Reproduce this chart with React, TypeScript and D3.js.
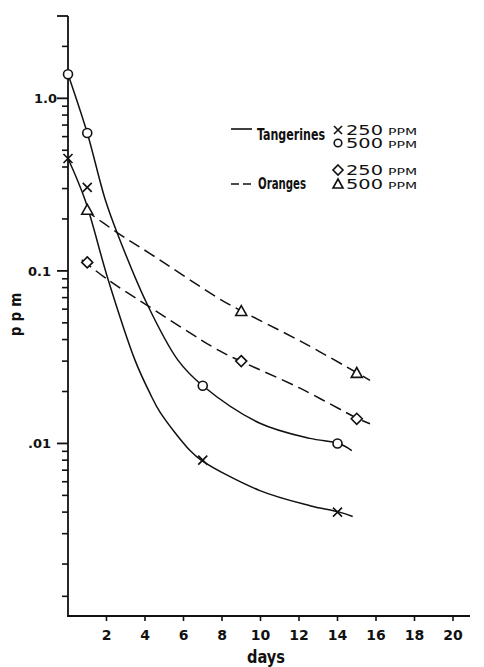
import React from "react";
import * as d3 from "d3";

// ---- data ----
// measured points: [day, ppm]
const tang250Pts: [number, number][] = [[0, 0.448], [1, 0.305], [7, 0.0080], [14, 0.0040]];
const tang500Pts: [number, number][] = [[0, 1.38], [1, 0.63], [7, 0.0216], [14, 0.0100]];
const orng250Pts: [number, number][] = [[1, 0.112], [9, 0.030], [15, 0.0139]];
const orng500Pts: [number, number][] = [[1, 0.226], [9, 0.0585], [15, 0.0256]];

// fitted curves: [day, ppm]
const tang250Curve: [number, number][] = [
  [0, 0.448], [0.88, 0.259], [2.09, 0.0886], [3.48, 0.0304], [4.26, 0.0195], [4.78, 0.0152],
  [6.34, 0.0091], [6.95, 0.00796], [9.97, 0.00533], [12.57, 0.00436], [14.1, 0.0040], [14.79, 0.00377],
];
const tang500Curve: [number, number][] = [
  [0, 1.38], [1.0, 0.63], [1.92, 0.262], [2.61, 0.160], [4.09, 0.0649], [5.71, 0.0304],
  [7.0, 0.0216], [9.97, 0.0131], [12.57, 0.0107], [14.08, 0.0100], [14.74, 0.0091],
];
const orng250Curve: [number, number][] = [
  [0.71, 0.116], [2.09, 0.0886], [4.09, 0.0634], [7.81, 0.0347], [8.97, 0.030],
  [12.05, 0.0209], [15.08, 0.0139], [15.69, 0.0130],
];
const orng500Curve: [number, number][] = [
  [0.88, 0.226], [2.61, 0.165], [4.26, 0.126], [7.79, 0.0697], [9.02, 0.0585],
  [12.05, 0.0393], [15.03, 0.0256], [15.69, 0.0232],
];

const xTicks = [2, 4, 6, 8, 10, 12, 14, 16, 18, 20];
const yMajorTicks = [3, 1, 0.1, 0.01];
const yLabels: [number, string][] = [[1, "1.0"], [0.1, "0.1"], [0.01, ".01"]];
const yMinorTicks = [
  2, 0.9, 0.8, 0.7, 0.6, 0.5, 0.4, 0.3, 0.2,
  0.09, 0.08, 0.07, 0.06, 0.05, 0.04, 0.03, 0.02,
  0.009, 0.008, 0.007, 0.006, 0.005, 0.004, 0.003, 0.002, 0.0013,
];

const legendSeries = ["Tangerines", "Oranges"];
const legendDoses = ["250", "500"];

export default function App() {
  const W = 484, H = 667;
  const x = d3.scaleLinear().domain([0, 20]).range([68, 453]);
  const y = d3.scaleLog().domain([0.001, 3]).range([616, 16]);
  const line = d3
    .line<[number, number]>()
    .x((d) => x(d[0]))
    .y((d) => y(d[1]))
    .curve(d3.curveCatmullRom.alpha(0.5));

  const ink = "#111";
  const tickFont = "'DejaVu Sans', sans-serif";
  const condFont = "'DejaVu Sans Condensed', 'DejaVu Sans', sans-serif";

  const cross = (cx: number, cy: number, s = 4.5, key?: any) => (
    <path key={key} d={`M${cx - s},${cy - s}L${cx + s},${cy + s}M${cx - s},${cy + s}L${cx + s},${cy - s}`} stroke={ink} strokeWidth={1.6} fill="none" />
  );
  const circle = (cx: number, cy: number, r = 4.5, key?: any) => (
    <circle key={key} cx={cx} cy={cy} r={r} stroke={ink} strokeWidth={1.6} fill="white" />
  );
  const diamond = (cx: number, cy: number, s = 5.5, key?: any) => (
    <path key={key} d={`M${cx},${cy - s}L${cx + s},${cy}L${cx},${cy + s}L${cx - s},${cy}Z`} stroke={ink} strokeWidth={1.6} fill="white" />
  );
  const triangle = (cx: number, cy: number, s = 5.5, key?: any) => (
    <path key={key} d={`M${cx},${cy - s}L${cx + s},${cy + s * 0.8}L${cx - s},${cy + s * 0.8}Z`} stroke={ink} strokeWidth={1.6} fill="white" />
  );

  return (
    <svg width={W} height={H} style={{ position: "absolute", left: 0, top: 0, background: "white" }}>
      {/* axes */}
      <line x1={68} x2={68} y1={y(3)} y2={616} stroke={ink} strokeWidth={1.8} />
      <line x1={67} x2={470} y1={616} y2={616} stroke={ink} strokeWidth={1.8} />
      {yMajorTicks.map((v) => (
        <line key={"M" + v} x1={57} x2={68} y1={y(v)} y2={y(v)} stroke={ink} strokeWidth={1.8} />
      ))}
      {yMinorTicks.map((v) => (
        <line key={"m" + v} x1={62} x2={68} y1={y(v)} y2={y(v)} stroke={ink} strokeWidth={1.6} />
      ))}
      {yLabels.map(([v, s]) => (
        <text key={"l" + v} x={v === 1 ? 57 : 51} y={y(v) + 5} textAnchor="end" fontFamily={tickFont} fontWeight="bold" fontSize={13} fill={ink}>
          {s}
        </text>
      ))}
      {xTicks.map((t) => (
        <g key={"x" + t}>
          <line x1={x(t)} x2={x(t)} y1={616} y2={621} stroke={ink} strokeWidth={1.6} />
          <text x={x(t)} y={640} textAnchor="middle" fontFamily={tickFont} fontWeight="bold" fontSize={14} fill={ink}>
            {t}
          </text>
        </g>
      ))}
      <text x={266} y={663} textAnchor="middle" fontFamily={condFont} fontWeight="bold" fontSize={17} fill={ink} textLength={38} lengthAdjust="spacingAndGlyphs">
        days
      </text>
      <text transform="translate(21,312) rotate(-90)" textAnchor="middle" fontFamily={condFont} fontWeight="bold" fontSize={15} fill={ink} letterSpacing={5}>
        ppm
      </text>

      {/* curves */}
      <path d={line(tang250Curve) || ""} fill="none" stroke={ink} strokeWidth={1.5} />
      <path d={line(tang500Curve) || ""} fill="none" stroke={ink} strokeWidth={1.5} />
      <path d={line(orng250Curve) || ""} fill="none" stroke={ink} strokeWidth={1.5} strokeDasharray="12,6" />
      <path d={line(orng500Curve) || ""} fill="none" stroke={ink} strokeWidth={1.5} strokeDasharray="12,6" />

      {/* markers */}
      {tang250Pts.map((d, i) => cross(x(d[0]), y(d[1]), 4.5, "t25" + i))}
      {tang500Pts.map((d, i) => circle(x(d[0]), y(d[1]), 4.5, "t50" + i))}
      {orng250Pts.map((d, i) => diamond(x(d[0]), y(d[1]), 5.5, "o25" + i))}
      {orng500Pts.map((d, i) => triangle(x(d[0]), y(d[1]), 5.5, "o50" + i))}

      {/* legend */}
      <line x1={231} x2={252} y1={129} y2={129} stroke={ink} strokeWidth={1.6} />
      <text x={257} y={140} fontFamily={condFont} fontWeight="bold" fontSize={15} fill={ink} textLength={68} lengthAdjust="spacingAndGlyphs">
        {legendSeries[0]}
      </text>
      <line x1={231} x2={252} y1={184} y2={184} stroke={ink} strokeWidth={1.6} strokeDasharray="8,4" />
      <text x={258} y={189} fontFamily={condFont} fontWeight="bold" fontSize={15} fill={ink} textLength={48} lengthAdjust="spacingAndGlyphs">
        {legendSeries[1]}
      </text>
      {cross(338, 130, 4)}
      {circle(338, 143, 3.8)}
      {diamond(338, 170, 5)}
      {triangle(338, 184, 5)}
      {[135, 148, 175, 189].map((by, i) => (
        <g key={"lg" + i}>
          <text x={346} y={by} fontFamily={tickFont} fontSize={13.5} fill={ink} textLength={37} lengthAdjust="spacingAndGlyphs">
            {legendDoses[i % 2]}
          </text>
          <text x={388} y={by} fontFamily={tickFont} fontSize={9} fill={ink} textLength={29} lengthAdjust="spacingAndGlyphs">
            PPM
          </text>
        </g>
      ))}
    </svg>
  );
}
